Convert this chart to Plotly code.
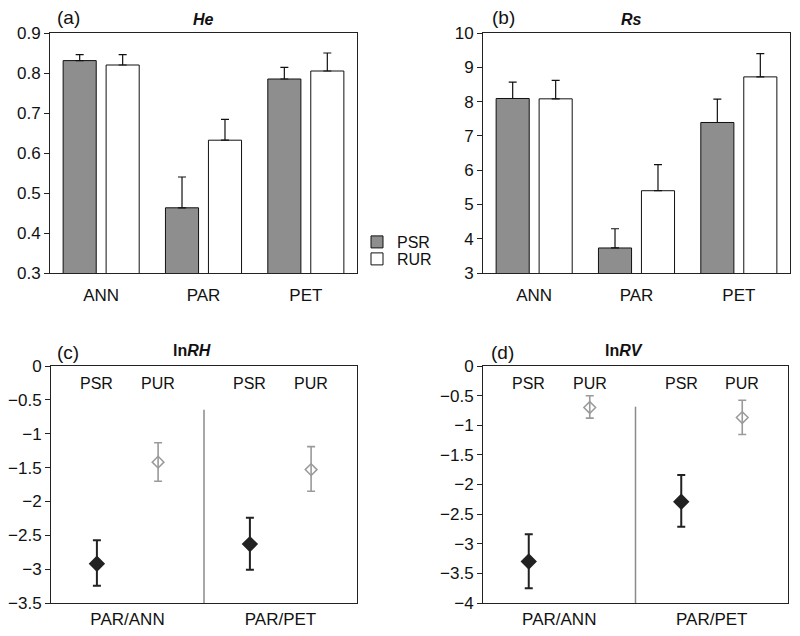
import plotly.graph_objects as go
from plotly.subplots import make_subplots

# ---------------- data ----------------
bar_categories = ["ANN", "PAR", "PET"]
series_names = ["PSR", "RUR"]

he_psr = [0.831, 0.463, 0.785]
he_psr_err = [0.015, 0.077, 0.029]
he_rur = [0.820, 0.632, 0.805]
he_rur_err = [0.026, 0.052, 0.045]

rs_psr = [8.09, 3.73, 7.39]
rs_psr_err = [0.48, 0.56, 0.68]
rs_rur = [8.08, 5.40, 8.72]
rs_rur_err = [0.54, 0.76, 0.68]

ratio_categories = ["PAR/ANN", "PAR/PET"]
point_labels = ["PSR", "PUR"]

rh_psr = [-2.92, -2.63]
rh_psr_plus = [0.345, 0.39]
rh_psr_minus = [0.325, 0.38]
rh_pur = [-1.42, -1.53]
rh_pur_plus = [0.286, 0.34]
rh_pur_minus = [0.281, 0.32]

rv_psr = [-3.30, -2.29]
rv_psr_plus = [0.462, 0.451]
rv_psr_minus = [0.45, 0.422]
rv_pur = [-0.70, -0.87]
rv_pur_plus = [0.198, 0.293]
rv_pur_minus = [0.18, 0.287]

# ---------------- style / layout ----------------
FONT = "Liberation Sans, Arial, sans-serif"
FS = 16
TICK_FS = 17
GRAY_BAR = "#8e8e8e"
DARK = "#222222"
LIGHT = "#9a9a9a"
OFFSET = 0.2  # horizontal offset of PSR / PUR within a ratio category

# the page places the figure 8px from the window edges
PAGE_PAD = 8
W, H = 800 - PAGE_PAD, 636 - PAGE_PAD

def px_x(p):
    return (p - PAGE_PAD) / W

def px_y(p):
    return 1 - (p - PAGE_PAD) / H

fig = make_subplots(rows=2, cols=2)

fig.update_layout(
    xaxis=dict(domain=[px_x(50), px_x(357)]),
    xaxis2=dict(domain=[px_x(483), px_x(790)]),
    xaxis3=dict(domain=[px_x(51), px_x(357)]),
    xaxis4=dict(domain=[px_x(483), px_x(788)]),
    yaxis=dict(domain=[px_y(273), px_y(33)]),
    yaxis2=dict(domain=[px_y(273), px_y(33)]),
    yaxis3=dict(domain=[px_y(603), px_y(366)]),
    yaxis4=dict(domain=[px_y(603), px_y(366)]),
)

def bar(name, vals, errs, color, show, legend):
    return go.Bar(
        name=name, x=bar_categories, y=vals,
        marker=dict(color=color, line=dict(color="#111111", width=1)),
        error_y=dict(type="data", symmetric=False, array=errs,
                     arrayminus=[0] * len(errs), color="#111111",
                     thickness=1.2, width=4),
        showlegend=show, legendgroup=name, legend=legend,
    )

fig.add_trace(bar(series_names[0], he_psr, he_psr_err, GRAY_BAR, True, "legend"), row=1, col=1)
fig.add_trace(bar(series_names[1], he_rur, he_rur_err, "white", True, "legend2"), row=1, col=1)
fig.add_trace(bar(series_names[0], rs_psr, rs_psr_err, GRAY_BAR, False, "legend"), row=1, col=2)
fig.add_trace(bar(series_names[1], rs_rur, rs_rur_err, "white", False, "legend2"), row=1, col=2)

def pts(vals, plus, minus, sign, filled):
    xs = [i + sign * OFFSET for i in range(len(vals))]
    color = DARK if filled else LIGHT
    return go.Scatter(
        x=xs, y=vals, mode="markers", showlegend=False,
        marker=dict(symbol="diamond" if filled else "diamond-open",
                    size=11 if filled else 9, color=color,
                    line=dict(color=color, width=1.5)),
        error_y=dict(type="data", symmetric=False, array=plus,
                     arrayminus=minus, color=color,
                     thickness=2 if filled else 1.6, width=4),
    )

fig.add_trace(pts(rh_psr, rh_psr_plus, rh_psr_minus, -1, True), row=2, col=1)
fig.add_trace(pts(rh_pur, rh_pur_plus, rh_pur_minus, 1, False), row=2, col=1)
fig.add_trace(pts(rv_psr, rv_psr_plus, rv_psr_minus, -1, True), row=2, col=2)
fig.add_trace(pts(rv_pur, rv_pur_plus, rv_pur_minus, 1, False), row=2, col=2)

axis_common = dict(showline=True, linecolor="#222222", linewidth=1, mirror=True,
                   showgrid=False, zeroline=False, automargin=False,
                   tickfont=dict(family=FONT, size=TICK_FS, color="#111111"))

fig.update_xaxes(**axis_common, ticks="")
fig.update_yaxes(**axis_common, ticks="outside", ticklen=5, tickcolor="#222222")

fig.update_xaxes(ticklabelstandoff=7, row=1, col=1)
fig.update_xaxes(ticklabelstandoff=7, row=1, col=2)
fig.update_yaxes(range=[0.3, 0.9], dtick=0.1, row=1, col=1)
fig.update_yaxes(range=[3, 10], dtick=1, row=1, col=2)

for col, ymin in ((1, -3.5), (2, -4)):
    fig.update_xaxes(range=[-0.5, len(ratio_categories) - 0.5],
                     tickvals=list(range(len(ratio_categories))),
                     ticktext=ratio_categories, ticklabelstandoff=1,
                     row=2, col=col)
    fig.update_yaxes(range=[ymin, 0], dtick=0.5, row=2, col=col)

# divider lines between ratio categories
for xref, yref, ytop, ybot in (("x3", "y3", -0.645, -3.5), ("x4", "y4", -0.687, -4)):
    fig.add_shape(type="line", xref=xref, yref=yref, x0=0.5, x1=0.5,
                  y0=ytop, y1=ybot, line=dict(color="#8a8a8a", width=1.5))

annotations = []
for xref, yref in (("x3", "y3 domain"), ("x4", "y4 domain")):
    for i in range(len(ratio_categories)):
        for sign, lab in zip((-1, 1), point_labels):
            annotations.append(dict(x=i + sign * OFFSET, y=0.928, xref=xref, yref=yref,
                                    xanchor="center", yanchor="middle",
                                    text=lab, showarrow=False,
                                    font=dict(family=FONT, size=FS, color="#111111")))

panel = [("(a)", 68, 18, "<b><i>He</i></b>", 203, 20),
         ("(b)", 503, 18, "<b><i>Rs</i></b>", 631, 20),
         ("(c)", 68, 352, "<b>ln<i>RH</i></b>", 192, 350),
         ("(d)", 502, 352, "<b>ln<i>RV</i></b>", 624, 350)]
for letter, lx, ly, title, tx, ty in panel:
    annotations.append(dict(x=px_x(lx), y=px_y(ly), xref="paper", yref="paper", text=letter,
                            xanchor="center", yanchor="middle",
                            showarrow=False, font=dict(family=FONT, size=19, color="#111111")))
    annotations.append(dict(x=px_x(tx), y=px_y(ty), xref="paper", yref="paper", text=title,
                            xanchor="center", yanchor="middle",
                            showarrow=False, font=dict(family=FONT, size=FS, color="#111111")))

legend_style = dict(xanchor="left", yanchor="middle",
                    font=dict(family=FONT, size=FS, color="#111111"),
                    bgcolor="rgba(0,0,0,0)", borderwidth=0)

fig.update_layout(
    width=W, height=H,
    margin=dict(l=0, r=0, t=0, b=0, autoexpand=False),
    paper_bgcolor="white", plot_bgcolor="white",
    barmode="group", bargap=0.16, bargroupgap=0.23,
    annotations=annotations,
    legend=dict(x=px_x(357), y=px_y(242), **legend_style),
    legend2=dict(x=px_x(357), y=px_y(259), **legend_style),
    font=dict(family=FONT),
)

fig.write_html("out.html")
